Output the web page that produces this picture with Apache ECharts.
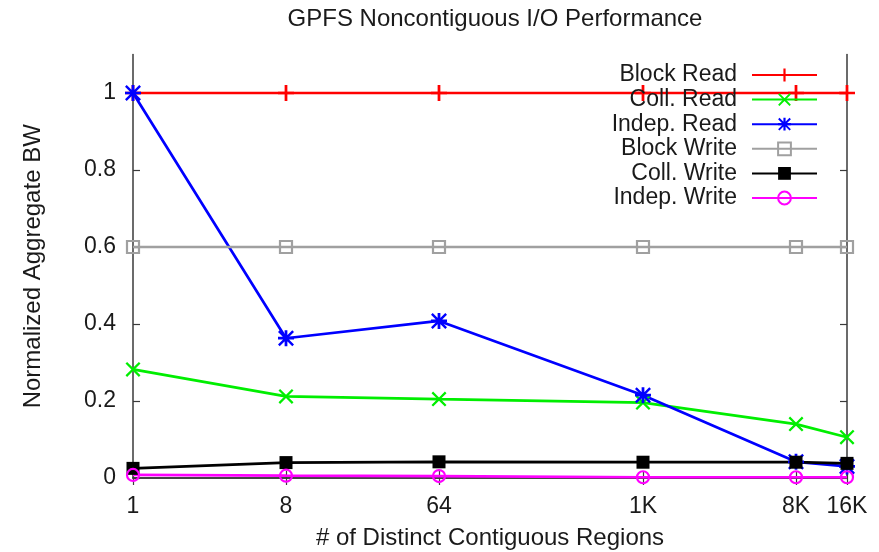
<!DOCTYPE html>
<html>
<head>
<meta charset="utf-8">
<script src="https://cdn.jsdelivr.net/npm/echarts@6/dist/echarts.min.js"></script>
<style>
  html, body { margin: 0; padding: 0; background: #fff; }
  #chart { width: 879px; height: 552px; }
</style>
</head>
<body>
<div id="chart"></div>
<script>
// Number of distinct contiguous regions (log2 x axis) and their tick labels
const regionCounts = [1, 8, 64, 1024, 8192, 16384];
const regionLabels = ['1', '8', '64', '1K', '8K', '16K'];
const yTicks = [0, 0.2, 0.4, 0.6, 0.8, 1];

// Normalized aggregate bandwidth per access method
const blockRead  = [1.0, 1.0, 1.0, 1.0, 1.0, 1.0];
const collRead   = [0.282, 0.212, 0.205, 0.196, 0.140, 0.106];
const indepRead  = [1.0, 0.363, 0.408, 0.215, 0.042, 0.030];
const blockWrite = [0.6, 0.6, 0.6, 0.6, 0.6, 0.6];
const collWrite  = [0.025, 0.040, 0.042, 0.041, 0.041, 0.038];
const indepWrite = [0.008, 0.006, 0.005, 0.002, 0.002, 0.002];

const seriesNames = ['Block Read', 'Coll. Read', 'Indep. Read', 'Block Write', 'Coll. Write', 'Indep. Write'];

// Point glyphs
const PLUS = 'path://M5.8,0 H8.2 V5.8 H14 V8.2 H8.2 V14 H5.8 V8.2 H0 V5.8 H5.8 Z';
const CROSS = 'path://M0,1.5 L1.5,0 L7,5.5 L12.5,0 L14,1.5 L8.5,7 L14,12.5 L12.5,14 L7,8.5 L1.5,14 L0,12.5 L5.5,7 Z';
const STAR = 'path://M5.8,0 H8.2 V5.8 H14 V8.2 H8.2 V14 H5.8 V8.2 H0 V5.8 H5.8 Z ' +
             'M0,1.5 L1.5,0 L7,5.5 L12.5,0 L14,1.5 L8.5,7 L14,12.5 L12.5,14 L7,8.5 L1.5,14 L0,12.5 L5.5,7 Z';

const FONT = 'Liberation Sans';
const TXT = '#1a1a1a';
const FRAME = '#3a3a3a';

function pairs(vals) {
  return regionCounts.map((x, i) => [x, vals[i]]);
}

function lineSeries(name, vals, color, symbol, size, hollow) {
  return {
    name: name,
    type: 'line',
    data: pairs(vals),
    clip: false,
    symbol: symbol,
    symbolSize: size,
    showAllSymbol: true,
    lineStyle: { color: color, width: 2.7 },
    itemStyle: hollow
      ? { color: 'rgba(255,255,255,0)', borderColor: color, borderWidth: 2.2 }
      : { color: color, borderWidth: 0 },
    emphasis: { disabled: true },
    animation: false
  };
}

const series = [
  lineSeries(seriesNames[0], blockRead,  '#ff0000', PLUS,  16, false),
  lineSeries(seriesNames[1], collRead,   '#00ee00', CROSS, 15, false),
  lineSeries(seriesNames[2], indepRead,  '#0000ff', STAR,  16, false),
  lineSeries(seriesNames[3], blockWrite, '#a0a0a0', 'rect', 12, true),
  lineSeries(seriesNames[4], collWrite,  '#000000', 'rect', 13, false),
  lineSeries(seriesNames[5], indepWrite, '#ff00ff', 'circle', 12, true)
];

// One legend block per entry so the samples line up at the right edge
const legendRowTop = 63.5;
const legendRowStep = 24.6;
const legends = seriesNames.map((n, i) => ({
  data: [n],
  right: 61,
  top: legendRowTop + i * legendRowStep,
  orient: 'vertical',
  align: 'right',
  padding: 0,
  itemWidth: 65,
  itemHeight: 16,
  selectedMode: false,
  textStyle: { fontFamily: FONT, fontSize: 23, color: TXT, padding: [0, 10, 0, 0] }
}));

const xLabelMap = {};
regionCounts.forEach((v, i) => { xLabelMap[v] = regionLabels[i]; });

const chart = echarts.init(document.getElementById('chart'), null, { renderer: 'canvas' });
chart.setOption({
  backgroundColor: '#ffffff',
  animation: false,
  title: {
    text: 'GPFS Noncontiguous I/O Performance',
    left: 490,
    textAlign: 'center',
    top: 2,
    textStyle: { fontFamily: FONT, fontSize: 24, fontWeight: 'normal', color: TXT }
  },
  legend: legends,
  grid: { left: 133, right: 32, top: 54.5, bottom: 74, containLabel: false, outerBoundsMode: 'none' },
  xAxis: [
    {
      type: 'log',
      logBase: 2,
      min: 1,
      max: 16384,
      position: 'bottom',
      name: '# of Distinct Contiguous Regions',
      nameLocation: 'middle',
      nameGap: 48,
      nameTextStyle: { fontFamily: FONT, fontSize: 24, color: TXT },
      axisLine: { show: true, lineStyle: { color: FRAME, width: 1.5 } },
      axisTick: { show: true, inside: true, length: 7, customValues: regionCounts, lineStyle: { color: FRAME, width: 1.2 } },
      axisLabel: {
        customValues: regionCounts,
        fontFamily: FONT, fontSize: 23, color: TXT, margin: 17,
        formatter: v => xLabelMap[v] !== undefined ? xLabelMap[v] : ''
      },
      splitLine: { show: false }
    },
    {
      type: 'log',
      logBase: 2,
      min: 1,
      max: 16384,
      position: 'top',
      axisLine: { show: true, lineStyle: { color: FRAME, width: 1.5 } },
      axisTick: { show: true, inside: true, length: 7, customValues: regionCounts, lineStyle: { color: FRAME, width: 1.2 } },
      axisLabel: { show: false },
      splitLine: { show: false }
    }
  ],
  yAxis: [
    {
      type: 'value',
      min: 0,
      max: 1.1,
      position: 'left',
      name: 'Normalized Aggregate BW',
      nameLocation: 'middle',
      nameGap: 88,
      nameTextStyle: { fontFamily: FONT, fontSize: 24, color: TXT },
      axisLine: { show: true, lineStyle: { color: FRAME, width: 1.5 } },
      axisTick: { show: true, inside: true, length: 7, customValues: yTicks, lineStyle: { color: FRAME, width: 1.2 } },
      axisLabel: { customValues: yTicks, fontFamily: FONT, fontSize: 23, color: TXT, margin: 17 },
      splitLine: { show: false }
    },
    {
      type: 'value',
      min: 0,
      max: 1.1,
      position: 'right',
      axisLine: { show: true, lineStyle: { color: FRAME, width: 1.5 } },
      axisTick: { show: true, inside: true, length: 7, customValues: yTicks, lineStyle: { color: FRAME, width: 1.2 } },
      axisLabel: { show: false },
      splitLine: { show: false }
    }
  ],
  series: series
});
</script>
</body>
</html>
